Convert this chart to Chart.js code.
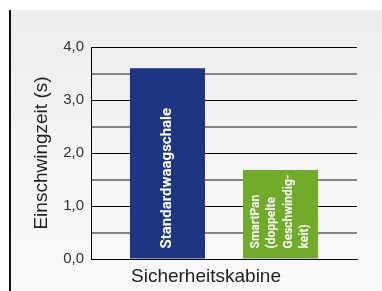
<!DOCTYPE html>
<html>
<head>
<meta charset="utf-8">
<script src="https://cdn.jsdelivr.net/npm/chart.js@4/dist/chart.umd.min.js"></script>
<style>
  html, body { margin: 0; padding: 0; background: #ffffff; }
  #wrap { position: relative; width: 382px; height: 291px; overflow: hidden; }
  #panel { position: absolute; left: 9px; top: 10px; width: 373px; height: 281px;
           border-left: 2px solid #111; box-sizing: border-box;
           background: linear-gradient(to bottom, #ededed 0%, #f6f6f6 60%, #f9f9f9 100%); }
  #c { position: absolute; left: 0; top: 0; }
</style>
</head>
<body>
<div id="wrap">
  <div id="panel"></div>
  <canvas id="c" width="382" height="291"></canvas>
</div>
<script>
const categories = ['Sicherheitskabine'];
const seriesNames = ['Standardwaagschale', 'SmartPan (doppelte Geschwindigkeit)'];
const standardValues = [3.6];
const smartPanValues = [1.68];
const barLabelLines = [
  ['Standardwaagschale'],
  ['SmartPan', '(doppelte', 'Geschwindig-', 'keit)']
];
const yAxisTitle = 'Einschwingzeit (s)';
const yMin = 0, yMax = 4, yStep = 0.5;

const barLabelPlugin = {
  id: 'barLabels',
  afterDatasetsDraw(chart) {
    const ctx = chart.ctx;
    const cfgs = [
      { font: 'bold 15px Roboto', spacing: 0 },
      { font: 'bold 12px Roboto', spacing: 16.5 }
    ];
    chart.data.datasets.forEach((ds, i) => {
      const meta = chart.getDatasetMeta(i);
      meta.data.forEach((bar) => {
        const lines = barLabelLines[i];
        const cfg = cfgs[i];
        ctx.save();
        ctx.translate(bar.x, bar.base - 10);
        ctx.rotate(-Math.PI / 2);
        ctx.font = cfg.font;
        ctx.fillStyle = '#ffffff';
        ctx.textAlign = 'left';
        ctx.textBaseline = 'middle';
        const n = lines.length;
        lines.forEach((ln, k) => {
          const d = (k - (n - 1) / 2) * cfg.spacing;
          ctx.fillText(ln, 0, d);
        });
        ctx.restore();
      });
    });
  }
};

new Chart(document.getElementById('c'), {
  type: 'bar',
  data: {
    labels: categories,
    datasets: [
      { label: seriesNames[0], data: standardValues, backgroundColor: '#1c3683', borderWidth: 0 },
      { label: seriesNames[1], data: smartPanValues, backgroundColor: '#70ac2a', borderWidth: 0 }
    ]
  },
  options: {
    responsive: false,
    animation: false,
    devicePixelRatio: 1,
    categoryPercentage: 0.85,
    barPercentage: 0.664,
    layout: { padding: { top: 47, right: 25, left: 0, bottom: 0 } },
    plugins: { legend: { display: false }, tooltip: { enabled: false } },
    scales: {
      x: {
        grid: { display: false, drawTicks: false },
        border: { display: true, color: '#000000', width: 1 },
        ticks: { color: '#222222', font: { family: 'Liberation Sans', size: 19 }, labelOffset: -18, padding: 6 },
        afterFit(s) { s.height = 32; }
      },
      y: {
        min: yMin, max: yMax,
        border: { display: true, color: '#000000', width: 1 },
        grid: {
          drawTicks: false,
          color: (c) => (Math.abs(c.tick.value % 1) < 1e-9 ? '#000000' : '#858585'),
          lineWidth: (c) => (Math.abs(c.tick.value % 1) < 1e-9 ? 1 : 2)
        },
        ticks: {
          stepSize: yStep,
          padding: 7,
          color: '#333333',
          font: { family: 'Liberation Sans', size: 15 },
          callback: (v) => (Math.abs(v % 1) < 1e-9 ? v.toFixed(1).replace('.', ',') : '')
        },
        title: {
          display: true, text: yAxisTitle, color: '#222222',
          font: { family: 'Liberation Sans', size: 19 },
          padding: { top: 30, bottom: 0 }
        },
        afterFit(s) { s.width = 91; }
      }
    }
  },
  plugins: [barLabelPlugin]
});
</script>
</body>
</html>
